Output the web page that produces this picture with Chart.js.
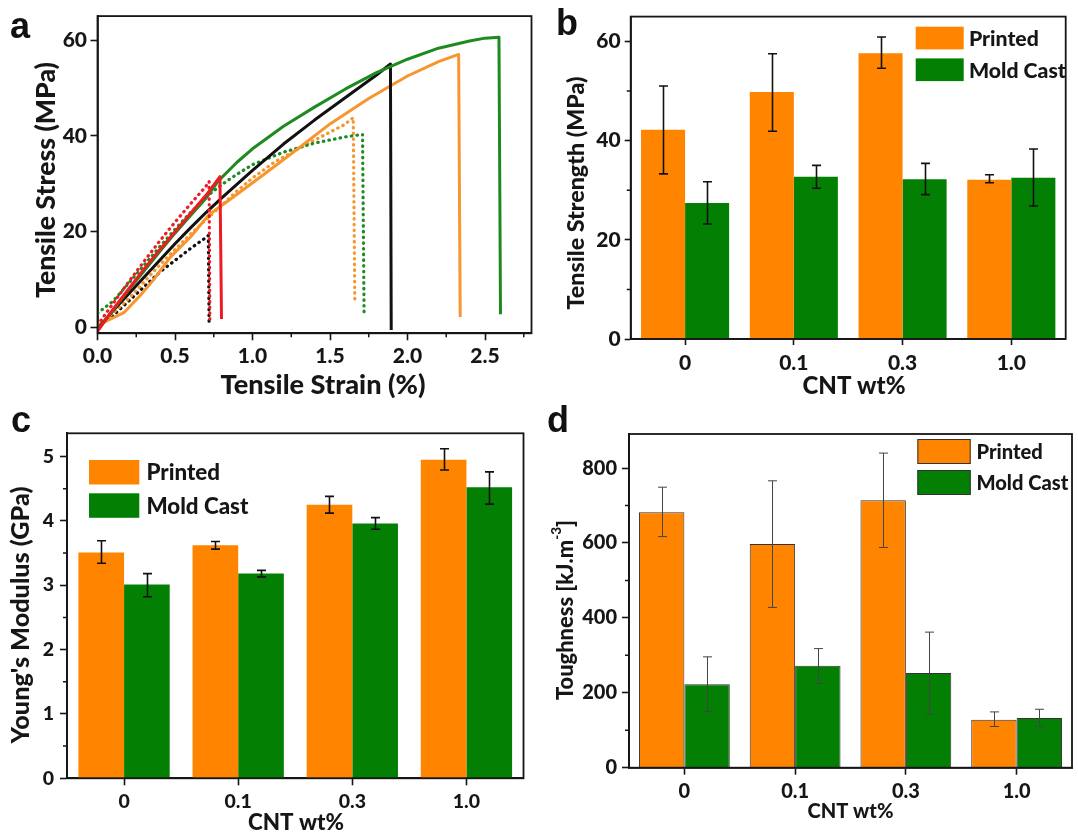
<!DOCTYPE html>
<html>
<head>
<meta charset="utf-8">
<script src="https://cdn.jsdelivr.net/npm/chart.js@4.4.1/dist/chart.umd.min.js"></script>
<style>
  html, body { margin: 0; padding: 0; background: #ffffff; }
  body { width: 1078px; height: 833px; position: relative; overflow: hidden; }
  .panel { position: absolute; }
  .letter { position: absolute; font: bold 36px "Liberation Sans", Arial, sans-serif; line-height: 36px; color: #111; }
</style>
</head>
<body>
<div class="panel" style="left:0;top:0;width:540px;height:410px"><canvas id="chartA"></canvas></div>
<div class="panel" style="left:540px;top:0;width:538px;height:410px"><canvas id="chartB"></canvas></div>
<div class="panel" style="left:0;top:410px;width:540px;height:423px"><canvas id="chartC"></canvas></div>
<div class="panel" style="left:540px;top:410px;width:538px;height:423px"><canvas id="chartD"></canvas></div>
<div class="letter" style="left:10px;top:8px">a</div>
<div class="letter" style="left:556px;top:5px">b</div>
<div class="letter" style="left:11px;top:402px">c</div>
<div class="letter" style="left:547px;top:402px">d</div>
<script>
// ================= DATA =================
// Panel a: stress-strain curves (strain %, stress MPa)
const strainTicks = [0, 0.5, 1.0, 1.5, 2.0, 2.5];
const stressTicks = [0, 20, 40, 60];

const redSolidStrain = [0, 0.1, 0.2, 0.3, 0.4, 0.5, 0.6, 0.7, 0.79, 0.80];
const redSolidStress = [-0.8, 3.8, 8.0, 12.2, 16.2, 20.0, 23.8, 27.6, 31.5, 1.8];

const redDotStrain = [0, 0.1, 0.2, 0.3, 0.4, 0.5, 0.6, 0.7, 0.72, 0.725];
const redDotStress = [0.5, 5.0, 9.5, 13.8, 18.0, 22.0, 25.8, 29.5, 30.5, 1.5];

const greenSolidStrain = [0, 0.1, 0.2, 0.3, 0.4, 0.5, 0.6, 0.7, 0.78, 0.9, 1.0, 1.2, 1.4, 1.6, 1.8, 2.0, 2.2, 2.4, 2.5, 2.59, 2.6];
const greenSolidStress = [-0.5, 3.6, 7.8, 11.8, 15.8, 19.7, 23.4, 27.0, 30.6, 34.5, 37.3, 42.0, 46.0, 49.8, 53.2, 56.0, 58.3, 59.8, 60.4, 60.6, 2.8];

const greenDotStrain = [0, 0.1, 0.2, 0.3, 0.4, 0.5, 0.6, 0.7, 0.8, 0.9, 1.0, 1.2, 1.4, 1.6, 1.71, 1.72];
const greenDotStress = [3.0, 5.5, 9.2, 13.0, 16.8, 20.5, 24.0, 27.2, 29.8, 32.0, 34.0, 36.6, 38.5, 39.8, 40.3, 2.8];

const blackSolidStrain = [0, 0.1, 0.2, 0.3, 0.4, 0.5, 0.6, 0.7, 0.8, 1.0, 1.2, 1.4, 1.6, 1.8, 1.89, 1.895];
const blackSolidStress = [-0.3, 3.5, 7.0, 10.5, 14.0, 17.5, 20.8, 24.0, 27.0, 32.8, 38.3, 43.3, 48.0, 52.7, 55.0, -0.5];

const blackDotStrain = [0, 0.1, 0.2, 0.3, 0.4, 0.5, 0.6, 0.7, 0.715, 0.72];
const blackDotStress = [0.5, 2.5, 5.5, 8.5, 11.5, 14.0, 16.5, 18.8, 19.2, 0.3];

const orangeSolidStrain = [0, 0.08, 0.17, 0.27, 0.36, 0.47, 0.6, 0.72, 0.87, 1.07, 1.24, 1.5, 1.75, 2.0, 2.2, 2.33, 2.34];
const orangeSolidStress = [0.5, 1.7, 3.1, 6.5, 9.9, 14.7, 18.9, 23.6, 27.1, 31.9, 36.0, 42.5, 47.8, 52.5, 55.5, 57.0, 2.2];

const orangeDotStrain = [0, 0.1, 0.2, 0.3, 0.4, 0.5, 0.6, 0.7, 0.8, 0.9, 1.0, 1.14, 1.37, 1.59, 1.65, 1.66];
const orangeDotStress = [0.3, 3.0, 6.0, 9.5, 13.0, 16.3, 19.5, 22.5, 25.5, 28.5, 31.2, 34.5, 38.6, 42.3, 43.8, 5.3];

// Bar panels
const cntLabels = ['0', '0.1', '0.3', '1.0'];
const seriesNames = ['Printed', 'Mold Cast'];

// b: tensile strength (MPa)
const strengthTicks = [0, 20, 40, 60];
const strengthPrinted = [42.2, 49.8, 57.6, 32.1];
const strengthPrintedLow = [33.3, 41.9, 54.6, 31.5];
const strengthPrintedHigh = [51.0, 57.5, 60.9, 33.1];
const strengthCast = [27.4, 32.7, 32.2, 32.5];
const strengthCastLow = [23.2, 30.4, 29.1, 26.8];
const strengthCastHigh = [31.7, 35.0, 35.4, 38.3];

// c: Young's modulus (GPa)
const modulusTicks = [0, 1, 2, 3, 4, 5];
const modulusPrinted = [3.51, 3.62, 4.25, 4.95];
const modulusPrintedLow = [3.34, 3.56, 4.12, 4.79];
const modulusPrintedHigh = [3.69, 3.68, 4.38, 5.12];
const modulusCast = [3.01, 3.18, 3.96, 4.52];
const modulusCastLow = [2.82, 3.13, 3.87, 4.26];
const modulusCastHigh = [3.18, 3.23, 4.05, 4.76];

// d: toughness (kJ.m^-3)
const toughTicks = [0, 200, 400, 600, 800];
const toughPrinted = [682, 597, 714, 128];
const toughPrintedLow = [617, 428, 588, 110];
const toughPrintedHigh = [749, 766, 840, 149];
const toughCast = [223, 272, 253, 133];
const toughCastLow = [150, 225, 143, 110];
const toughCastHigh = [296, 318, 362, 156];

// ================= STYLE =================
const FONT = "Lato, 'Liberation Sans', Arial, sans-serif";
const WEIGHT = '900';
const INK = '#161616';
const ORANGE_BAR = '#ff8400';
const GREEN_BAR = '#038003';
const C_RED = '#ec1c24', C_GREEN = '#1f8a1f', C_BLACK = '#111111', C_ORANGE = '#f7962f';

Chart.defaults.font.family = FONT;
Chart.defaults.font.weight = WEIGHT;
Chart.defaults.color = INK;
Chart.defaults.animation = false;
Chart.defaults.plugins.legend.display = false;
Chart.defaults.plugins.tooltip.enabled = false;

function zip(xs, ys) { return xs.map((x, i) => ({ x: x, y: ys[i] })); }
function pairs(lo, hi) { return lo.map((v, i) => [v, hi[i]]); }

// rich text (supports superscript parts), optionally fitted to a target width
function drawRich(ctx, t) {
  const fontFor = (p, s) => `${WEIGHT} ${p.sup ? s * 0.62 : s}px ${FONT}`;
  const measure = (s) => t.parts.reduce((w, p) => { ctx.font = fontFor(p, s); return w + ctx.measureText(p.text).width; }, 0);
  let size = t.size;
  if (t.width) size = size * t.width / measure(size);
  const total = measure(size);
  ctx.save();
  ctx.translate(t.x, t.y);
  if (t.rot) ctx.rotate(t.rot * Math.PI / 180);
  ctx.fillStyle = INK;
  ctx.textAlign = 'left';
  ctx.textBaseline = 'middle';
  let cx = -total / 2;
  t.parts.forEach(p => {
    ctx.font = fontFor(p, size);
    ctx.fillText(p.text, cx, p.sup ? -size * 0.42 : 0);
    cx += ctx.measureText(p.text).width;
  });
  ctx.restore();
}

const decor = {
  id: 'decor',
  afterDatasetsDraw(chart, args, o) {
    // error bars
    if (!o.err) return;
    const ctx = chart.ctx, ys = chart.scales.y;
    ctx.save();
    ctx.strokeStyle = o.err.color;
    ctx.lineWidth = o.err.width;
    chart.data.datasets.forEach((ds, di) => {
      if (!ds.errorRange) return;
      const meta = chart.getDatasetMeta(di);
      meta.data.forEach((bar, i) => {
        const r = ds.errorRange[i];
        const x = Math.round(bar.x) + 0.5;
        const y1 = ys.getPixelForValue(r[0]), y2 = ys.getPixelForValue(r[1]);
        ctx.beginPath();
        ctx.moveTo(x, y1); ctx.lineTo(x, y2);
        ctx.moveTo(x - o.err.cap, y1); ctx.lineTo(x + o.err.cap, y1);
        ctx.moveTo(x - o.err.cap, y2); ctx.lineTo(x + o.err.cap, y2);
        ctx.stroke();
      });
    });
    ctx.restore();
  },
  afterDraw(chart, args, o) {
    const ctx = chart.ctx, ca = chart.chartArea;
    ctx.save();
    // frame
    ctx.strokeStyle = INK;
    ctx.lineWidth = 1.8;
    ctx.strokeRect(ca.left, ca.top, ca.right - ca.left, ca.bottom - ca.top);
    // minor ticks
    const minor = (scale, step, horizontal) => {
      const majors = scale.ticks.map(t => t.value);
      const k0 = Math.ceil(scale.min / step - 1e-9), k1 = Math.floor(scale.max / step + 1e-9);
      ctx.beginPath();
      ctx.lineWidth = 1.5;
      for (let k = k0; k <= k1; k++) {
        const v = k * step;
        if (majors.some(m => Math.abs(m - v) < step / 100)) continue;
        const p = scale.getPixelForValue(v);
        if (horizontal) { ctx.moveTo(p, ca.bottom); ctx.lineTo(p, ca.bottom + o.minorLen); }
        else { ctx.moveTo(ca.left, p); ctx.lineTo(ca.left - o.minorLen, p); }
      }
      ctx.stroke();
    };
    if (o.minorX) minor(chart.scales.x, o.minorX, true);
    if (o.minorY) minor(chart.scales.y, o.minorY, false);
    // axis titles
    (o.titles || []).forEach(t => drawRich(ctx, t));
    // legend
    if (o.legend) {
      const L = o.legend;
      ctx.font = `${WEIGHT} ${L.size}px ${FONT}`;
      let size = L.size;
      if (L.fitWidth) size = L.size * L.fitWidth / ctx.measureText(L.fitText).width;
      chart.data.datasets.forEach((ds, i) => {
        const y = L.y + i * L.pitch;
        ctx.fillStyle = ds.backgroundColor;
        ctx.fillRect(L.x, y, L.w, L.h);
        if (L.border) { ctx.strokeStyle = L.border; ctx.lineWidth = 1; ctx.strokeRect(L.x + 0.5, y + 0.5, L.w - 1, L.h - 1); }
        ctx.fillStyle = INK;
        ctx.font = `${WEIGHT} ${size}px ${FONT}`;
        ctx.textAlign = 'left';
        ctx.textBaseline = 'middle';
        ctx.fillText(ds.label, L.textX, y + L.h / 2 + 1);
      });
    }
    ctx.restore();
  }
};
Chart.register(decor);

function axisCommon(tickLen, fontSize, pad) {
  return {
    grid: { drawOnChartArea: false, drawTicks: true, tickLength: tickLen, tickColor: INK, tickWidth: 1.6, offset: false },
    border: { display: true, color: INK, width: 1.8 },
    ticks: { color: INK, font: { size: fontSize, weight: WEIGHT, family: FONT }, padding: pad, autoSkip: false, maxRotation: 0, minRotation: 0 }
  };
}
function withSize(base, extra) {
  const out = Object.assign({}, base, extra);
  out.ticks = Object.assign({}, base.ticks, extra.ticks || {});
  out.grid = Object.assign({}, base.grid, extra.grid || {});
  return out;
}

// ================= PANEL A =================
function curve(label, xs, ys, color, dotted) {
  return {
    label: label,
    data: zip(xs, ys),
    showLine: true,
    borderColor: color,
    backgroundColor: color,
    borderWidth: dotted ? 3.2 : 3,
    borderDash: dotted ? [0.5, 5.2] : [],
    borderCapStyle: dotted ? 'round' : 'butt',
    borderJoinStyle: 'round',
    pointRadius: 0,
    tension: 0,
    fill: false
  };
}

new Chart(document.getElementById('chartA'), {
  type: 'scatter',
  data: {
    datasets: [
      curve('Red solid', redSolidStrain, redSolidStress, C_RED, false),
      curve('Red dotted', redDotStrain, redDotStress, C_RED, true),
      curve('Green solid', greenSolidStrain, greenSolidStress, C_GREEN, false),
      curve('Black solid', blackSolidStrain, blackSolidStress, C_BLACK, false),
      curve('Orange solid', orangeSolidStrain, orangeSolidStress, C_ORANGE, false),
      curve('Green dotted', greenDotStrain, greenDotStress, C_GREEN, true),
      curve('Orange dotted', orangeDotStrain, orangeDotStress, C_ORANGE, true),
      curve('Black dotted', blackDotStrain, blackDotStress, C_BLACK, true)
    ]
  },
  options: {
    responsive: true, maintainAspectRatio: false,
    layout: { padding: { left: 0, top: 11, right: 8.5, bottom: 0 } },
    scales: {
      x: withSize(axisCommon(7, 21, 3), {
        type: 'linear', min: 0, max: 2.8,
        afterFit: s => { s.height = 76.7; },
        afterBuildTicks: s => { s.ticks = strainTicks.map(v => ({ value: v })); },
        ticks: { callback: v => Number(v).toFixed(1) }
      }),
      y: withSize(axisCommon(7, 21, 3.5), {
        type: 'linear', min: -1.2, max: 65,
        afterFit: s => { s.width = 97.5; },
        afterBuildTicks: s => { s.ticks = stressTicks.map(v => ({ value: v })); }
      })
    },
    plugins: {
      decor: {
        minorX: 0.25, minorLen: 4,
        titles: [
          { parts: [{ text: 'Tensile Stress (MPa)' }], x: 46, y: 180, rot: -90, size: 24, width: 236 },
          { parts: [{ text: 'Tensile Strain (%)' }], x: 323, y: 385, size: 24, width: 205 }
        ]
      }
    }
  }
});

// ================= BAR PANELS =================
function barChart(id, cfg) {
  return new Chart(document.getElementById(id), {
    type: 'bar',
    data: {
      labels: cntLabels,
      datasets: [
        { label: seriesNames[0], data: cfg.printed, errorRange: cfg.printedErr, backgroundColor: ORANGE_BAR,
          borderColor: cfg.barBorder || ORANGE_BAR, borderWidth: cfg.barBorder ? 1 : 0,
          categoryPercentage: cfg.catPct, barPercentage: 1.0 },
        { label: seriesNames[1], data: cfg.cast, errorRange: cfg.castErr, backgroundColor: GREEN_BAR,
          borderColor: cfg.barBorder || GREEN_BAR, borderWidth: cfg.barBorder ? 1 : 0,
          categoryPercentage: cfg.catPct, barPercentage: 1.0 }
      ]
    },
    options: {
      responsive: true, maintainAspectRatio: false,
      layout: { padding: { left: 0, top: cfg.padTop, right: cfg.padRight, bottom: 0 } },
      scales: {
        x: withSize(axisCommon(cfg.xTickLen, cfg.xFont, cfg.xPad), {
          type: 'category', offset: true,
          afterFit: s => { s.height = cfg.xH; }
        }),
        y: withSize(axisCommon(cfg.yTickLen, cfg.yFont, cfg.yPad), {
          type: 'linear', min: 0, max: cfg.yMax,
          afterFit: s => { s.width = cfg.yW; },
          afterBuildTicks: s => { s.ticks = cfg.yTicks.map(v => ({ value: v })); }
        })
      },
      plugins: {
        decor: {
          minorY: cfg.minorY, minorLen: 4,
          err: cfg.err,
          titles: cfg.titles,
          legend: cfg.legend
        }
      }
    }
  });
}

barChart('chartB', {
  printed: strengthPrinted, printedErr: pairs(strengthPrintedLow, strengthPrintedHigh),
  cast: strengthCast, castErr: pairs(strengthCastLow, strengthCastHigh),
  catPct: 0.81, yMax: 65, yTicks: strengthTicks, minorY: 10,
  padTop: 11, padRight: 12.3, yW: 90.7, xH: 71,
  xTickLen: 6, xFont: 21, xPad: 6, yTickLen: 6, yFont: 21, yPad: 4,
  err: { color: '#111', width: 1.6, cap: 4.5 },
  titles: [
    { parts: [{ text: 'Tensile Strength (MPa)' }], x: 36, y: 193, rot: -90, size: 21, width: 233 },
    { parts: [{ text: 'CNT wt%' }], x: 314, y: 386, size: 23, width: 103 }
  ],
  legend: { x: 375.7, y: 26.7, w: 48, h: 22.7, pitch: 31.7, textX: 428.9, size: 20, fitText: 'Mold Cast', fitWidth: 97 }
});

barChart('chartC', {
  printed: modulusPrinted, printedErr: pairs(modulusPrintedLow, modulusPrintedHigh),
  cast: modulusCast, castErr: pairs(modulusCastLow, modulusCastHigh),
  catPct: 0.8, yMax: 5.36, yTicks: modulusTicks, minorY: 0.5,
  padTop: 23.3, padRight: 16.5, yW: 67, xH: 54.7,
  xTickLen: 7, xFont: 19.5, xPad: 5, yTickLen: 7, yFont: 19.5, yPad: 6,
  err: { color: '#111', width: 1.6, cap: 4.5 },
  titles: [
    { parts: [{ text: "Young's Modulus (GPa)" }], x: 20.7, y: 205, rot: -90, size: 23, width: 257 },
    { parts: [{ text: 'CNT wt%' }], x: 296, y: 413, size: 21, width: 96 }
  ],
  legend: { x: 89, y: 50, w: 50.3, h: 24.5, pitch: 33.3, textX: 146.4, size: 21, fitText: 'Mold Cast', fitWidth: 102 }
});

barChart('chartD', {
  printed: toughPrinted, printedErr: pairs(toughPrintedLow, toughPrintedHigh),
  cast: toughCast, castErr: pairs(toughCastLow, toughCastHigh),
  catPct: 0.82, yMax: 891, yTicks: toughTicks, minorY: 100,
  padTop: 24, padRight: 6, yW: 89, xH: 65.3,
  xTickLen: 7, xFont: 20, xPad: 5, yTickLen: 7, yFont: 20, yPad: 5,
  barBorder: '#333333',
  err: { color: '#444', width: 1, cap: 4.5 },
  titles: [
    { parts: [{ text: 'Toughness [kJ.m' }, { text: '-3', sup: true }, { text: ']' }], x: 25.7, y: 200, rot: -90, size: 20, width: 180 },
    { parts: [{ text: 'CNT wt%' }], x: 310.5, y: 401.7, size: 19, width: 86 }
  ],
  legend: { x: 377.4, y: 29, w: 53.3, h: 25, pitch: 31, textX: 436.4, size: 19, border: '#333333', fitText: 'Mold Cast', fitWidth: 92 }
});
</script>
</body>
</html>
